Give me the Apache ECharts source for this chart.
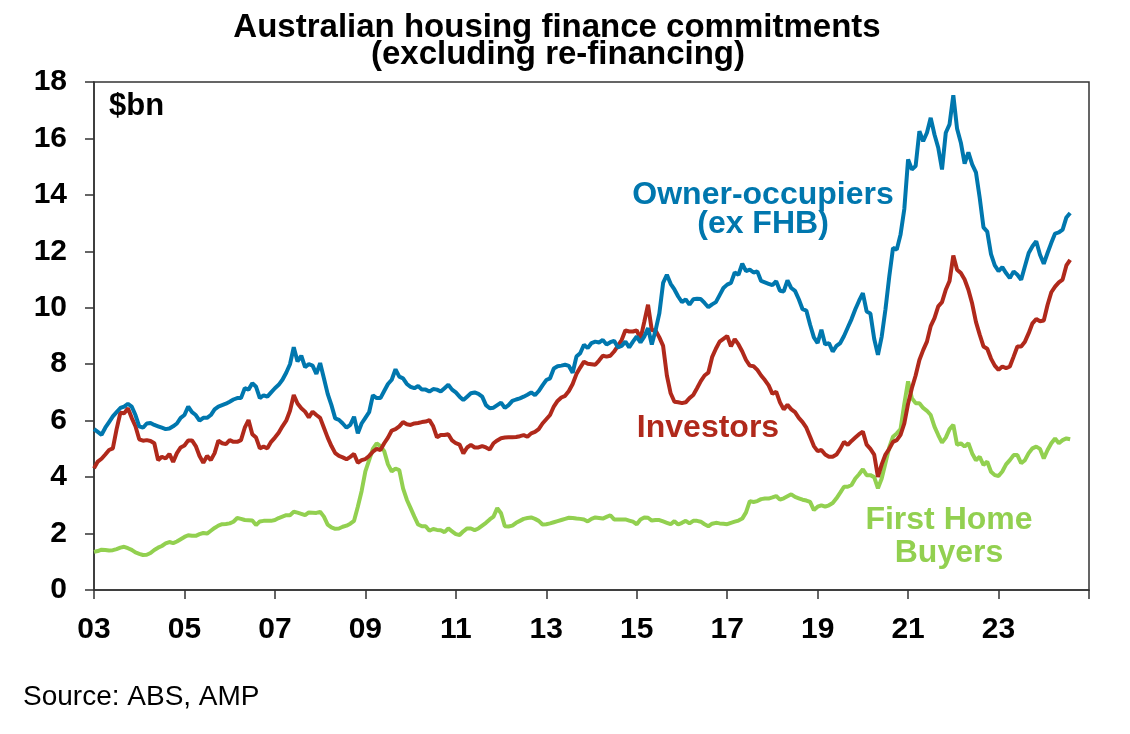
<!DOCTYPE html>
<html>
<head>
<meta charset="utf-8">
<script src="https://cdn.jsdelivr.net/npm/echarts@6/dist/echarts.min.js"></script>
<style>
html,body{margin:0;padding:0;background:#fff;}
#chart{width:1130px;height:734px;}
</style>
</head>
<body>
<div id="chart"></div>
<script>
// Monthly data, Jan 2003 to Aug 2024 ($bn)
const startYear = 2003;
const tickLabels = ['03','05','07','09','11','13','15','17','19','21','23'];

const ownerOccupiers = [
5.7,5.6,5.5,5.75,5.95,6.15,6.3,6.45,6.5,6.6,6.5,6.2,
5.8,5.75,5.9,5.92,5.85,5.8,5.75,5.7,5.72,5.8,5.9,6.1,
6.2,6.5,6.3,6.2,6.0,6.1,6.1,6.2,6.4,6.5,6.55,6.6,
6.67,6.75,6.8,6.8,7.15,7.1,7.33,7.2,6.8,6.9,6.85,7.0,
7.15,7.27,7.45,7.7,8.0,8.6,8.1,8.3,7.9,8.0,7.95,7.66,
8.04,7.5,6.95,6.55,6.08,6.03,5.9,5.75,5.85,6.14,5.55,5.9,
6.1,6.3,6.9,6.8,6.8,7.05,7.3,7.45,7.82,7.56,7.5,7.3,
7.2,7.15,7.23,7.1,7.1,7.03,7.12,7.1,7.03,7.15,7.27,7.1,
7.0,6.85,6.73,6.85,6.97,7.0,6.95,6.85,6.55,6.44,6.46,6.55,
6.64,6.45,6.55,6.7,6.75,6.79,6.85,6.92,7.0,6.9,7.05,7.25,
7.44,7.5,7.85,7.93,7.95,7.98,7.94,7.7,8.27,8.39,8.69,8.57,
8.75,8.8,8.77,8.86,8.7,8.78,8.83,8.6,8.65,8.8,8.6,8.8,
8.98,8.77,8.98,9.28,8.7,9.2,9.8,10.88,11.17,10.85,10.65,10.4,
10.2,10.3,10.11,10.3,10.32,10.31,10.17,10.02,10.12,10.2,10.45,10.7,
10.82,10.88,11.25,11.17,11.56,11.3,11.35,11.25,11.29,10.95,10.9,10.85,
10.8,10.94,10.6,10.58,10.97,10.7,10.6,10.3,9.95,9.9,9.4,8.95,
8.75,9.22,8.7,8.75,8.45,8.65,8.75,9.0,9.3,9.6,9.95,10.25,
10.52,9.87,9.8,8.9,8.33,8.98,9.95,11.1,12.12,12.06,12.6,13.5,
15.26,14.9,15.02,16.26,15.9,16.2,16.73,16.14,15.67,14.9,16.2,16.5,
17.53,16.34,15.85,15.11,15.51,15.08,14.8,13.9,12.85,12.7,11.9,11.5,
11.3,11.44,11.23,11.05,11.29,11.17,10.99,11.47,11.94,12.18,12.36,11.88,
11.56,11.94,12.3,12.63,12.67,12.77,13.2,13.36
];

const investors = [
4.31,4.55,4.65,4.8,4.96,5.02,5.7,6.28,6.26,6.44,6.1,5.8,
5.34,5.29,5.31,5.28,5.2,4.6,4.72,4.66,4.82,4.54,4.85,5.05,
5.12,5.3,5.3,5.1,4.75,4.51,4.75,4.6,4.85,5.29,5.2,5.17,
5.31,5.25,5.25,5.31,5.75,6.02,5.52,5.4,5.02,5.08,5.02,5.25,
5.4,5.57,5.8,6.0,6.35,6.91,6.61,6.44,6.32,6.12,6.32,6.2,
6.1,5.75,5.4,5.1,4.85,4.75,4.7,4.63,4.72,4.82,4.51,4.6,
4.64,4.75,4.9,5.0,4.96,5.2,5.4,5.65,5.7,5.8,5.95,5.87,
5.85,5.9,5.92,5.95,5.97,6.02,5.8,5.41,5.49,5.49,5.52,5.3,
5.2,5.15,4.84,5.05,5.14,5.05,5.05,5.1,5.05,4.98,5.2,5.3,
5.38,5.4,5.41,5.41,5.42,5.45,5.49,5.43,5.55,5.6,5.7,5.9,
6.05,6.2,6.5,6.7,6.82,6.88,7.05,7.3,7.65,7.88,8.09,8.02,
8.0,7.98,8.13,8.3,8.27,8.3,8.45,8.65,8.86,9.2,9.16,9.16,
9.2,8.9,9.5,10.11,9.2,9.2,8.95,8.65,7.6,6.97,6.67,6.65,
6.62,6.65,6.8,6.91,7.15,7.4,7.6,7.7,8.25,8.55,8.8,8.9,
9.0,8.63,8.89,8.7,8.45,8.15,7.95,7.93,7.8,7.6,7.44,7.25,
6.95,7.03,6.65,6.4,6.56,6.4,6.3,6.1,5.95,5.75,5.43,5.1,
4.92,4.96,4.8,4.72,4.72,4.8,5.0,5.25,5.14,5.28,5.4,5.52,
5.61,5.15,5.0,4.8,4.01,4.45,4.8,5.0,5.25,5.31,5.5,5.9,
6.6,7.15,7.6,8.15,8.5,8.8,9.35,9.63,10.05,10.2,10.64,10.95,
11.85,11.35,11.23,11.0,10.64,10.15,9.5,9.05,8.63,8.55,8.2,7.95,
7.8,7.92,7.86,7.92,8.27,8.63,8.63,8.8,9.1,9.45,9.6,9.52,
9.55,10.1,10.55,10.75,10.9,11.0,11.5,11.7
];

const firstHomeBuyers = [
1.35,1.38,1.43,1.42,1.4,1.41,1.45,1.5,1.53,1.48,1.42,1.33,
1.28,1.24,1.25,1.31,1.42,1.5,1.56,1.65,1.7,1.66,1.72,1.8,
1.88,1.94,1.92,1.92,1.98,2.02,2.0,2.1,2.2,2.28,2.33,2.34,
2.36,2.42,2.55,2.52,2.48,2.47,2.46,2.3,2.43,2.45,2.45,2.45,
2.48,2.55,2.6,2.65,2.65,2.77,2.74,2.7,2.65,2.75,2.74,2.73,
2.77,2.6,2.32,2.22,2.17,2.18,2.24,2.28,2.35,2.45,2.95,3.5,
4.2,4.6,5.0,5.2,5.1,4.92,4.45,4.2,4.3,4.25,3.6,3.2,
2.9,2.6,2.32,2.26,2.26,2.1,2.16,2.13,2.12,2.05,2.18,2.08,
1.98,1.95,2.08,2.18,2.18,2.12,2.18,2.28,2.38,2.5,2.6,2.9,
2.72,2.26,2.25,2.28,2.38,2.45,2.52,2.55,2.57,2.52,2.45,2.32,
2.33,2.36,2.4,2.44,2.48,2.52,2.56,2.55,2.53,2.52,2.5,2.43,
2.52,2.57,2.55,2.53,2.59,2.65,2.5,2.5,2.5,2.5,2.46,2.42,
2.33,2.5,2.57,2.56,2.46,2.48,2.48,2.43,2.38,2.33,2.44,2.32,
2.38,2.45,2.36,2.45,2.45,2.42,2.33,2.26,2.35,2.38,2.36,2.35,
2.33,2.38,2.42,2.46,2.53,2.75,3.15,3.12,3.15,3.22,3.24,3.24,
3.28,3.33,3.2,3.25,3.32,3.39,3.3,3.25,3.2,3.17,3.12,2.83,
2.95,3.0,2.95,3.0,3.08,3.25,3.45,3.66,3.66,3.72,3.95,4.1,
4.28,4.07,4.07,4.0,3.6,3.95,4.5,5.05,5.43,5.55,5.7,6.6,
7.39,6.8,6.62,6.62,6.45,6.35,6.2,5.79,5.49,5.22,5.4,5.7,
5.85,5.14,5.2,5.08,5.2,4.84,4.6,4.72,4.43,4.55,4.19,4.07,
4.04,4.2,4.45,4.6,4.78,4.78,4.49,4.6,4.85,5.02,5.08,5.0,
4.66,4.96,5.2,5.37,5.2,5.31,5.37,5.34
];

const BLUE = '#0077AE';
const RED = '#B0291B';
const GREEN = '#92D050';
const FONT = '"Liberation Sans", Arial, sans-serif';

const toPairs = arr => arr.map((v, i) => [i, v]);
const lastMonth = (2025 - startYear) * 12;

const chart = echarts.init(document.getElementById('chart'), null, {renderer: 'canvas'});

function txt(text, x, y, color, size, weight, align) {
  return {
    type: 'text', x: x, y: y, silent: true,
    style: {
      text: text, fill: color, font: (weight || 'bold') + ' ' + size + 'px ' + FONT,
      textAlign: align || 'center', textVerticalAlign: 'middle'
    }
  };
}

chart.setOption({
  animation: false,
  backgroundColor: '#ffffff',
  grid: {
    left: 94, right: 41, top: 82, bottom: 144,
    show: true, borderColor: '#333', borderWidth: 1.5, backgroundColor: 'transparent'
  },
  xAxis: {
    type: 'value', min: 0, max: lastMonth, interval: 24,
    axisLine: {show: true, onZero: false, lineStyle: {color: '#333', width: 1.5}},
    axisTick: {show: true, length: 9, lineStyle: {color: '#333', width: 1.5}},
    splitLine: {show: false},
    axisLabel: {
      margin: 25, color: '#000', fontSize: 30, fontWeight: 'bold', fontFamily: FONT,
      formatter: v => { const k = Math.round(v / 24); return tickLabels[k] !== undefined ? tickLabels[k] : ''; }
    }
  },
  yAxis: {
    type: 'value', min: 0, max: 18, interval: 2,
    axisLine: {show: true, lineStyle: {color: '#333', width: 1.5}},
    axisTick: {show: true, length: 9, lineStyle: {color: '#333', width: 1.5}},
    splitLine: {show: false},
    axisLabel: {margin: 27, color: '#000', fontSize: 30, fontWeight: 'bold', fontFamily: FONT}
  },
  series: [
    {name: 'First Home Buyers', type: 'line', data: toPairs(firstHomeBuyers), showSymbol: false,
      lineStyle: {color: GREEN, width: 4}, itemStyle: {color: GREEN}, z: 2},
    {name: 'Investors', type: 'line', data: toPairs(investors), showSymbol: false,
      lineStyle: {color: RED, width: 4}, itemStyle: {color: RED}, z: 3},
    {name: 'Owner-occupiers (ex FHB)', type: 'line', data: toPairs(ownerOccupiers), showSymbol: false,
      lineStyle: {color: BLUE, width: 4}, itemStyle: {color: BLUE}, z: 4}
  ],
  graphic: [
    txt('Australian housing finance commitments', 557, 28, '#000', 33),
    txt('(excluding re-financing)', 558, 55, '#000', 33),
    txt('$bn', 109, 106, '#000', 31, 'bold', 'left'),
    txt('Owner-occupiers', 763, 195, BLUE, 32),
    txt('(ex FHB)', 763, 224, BLUE, 32),
    txt('Investors', 708, 428, RED, 32),
    txt('First Home', 949, 520, GREEN, 32),
    txt('Buyers', 949, 553, GREEN, 32),
    txt('Source: ABS, AMP', 23, 697, '#000', 28, 'normal', 'left')
  ]
});
</script>
</body>
</html>
